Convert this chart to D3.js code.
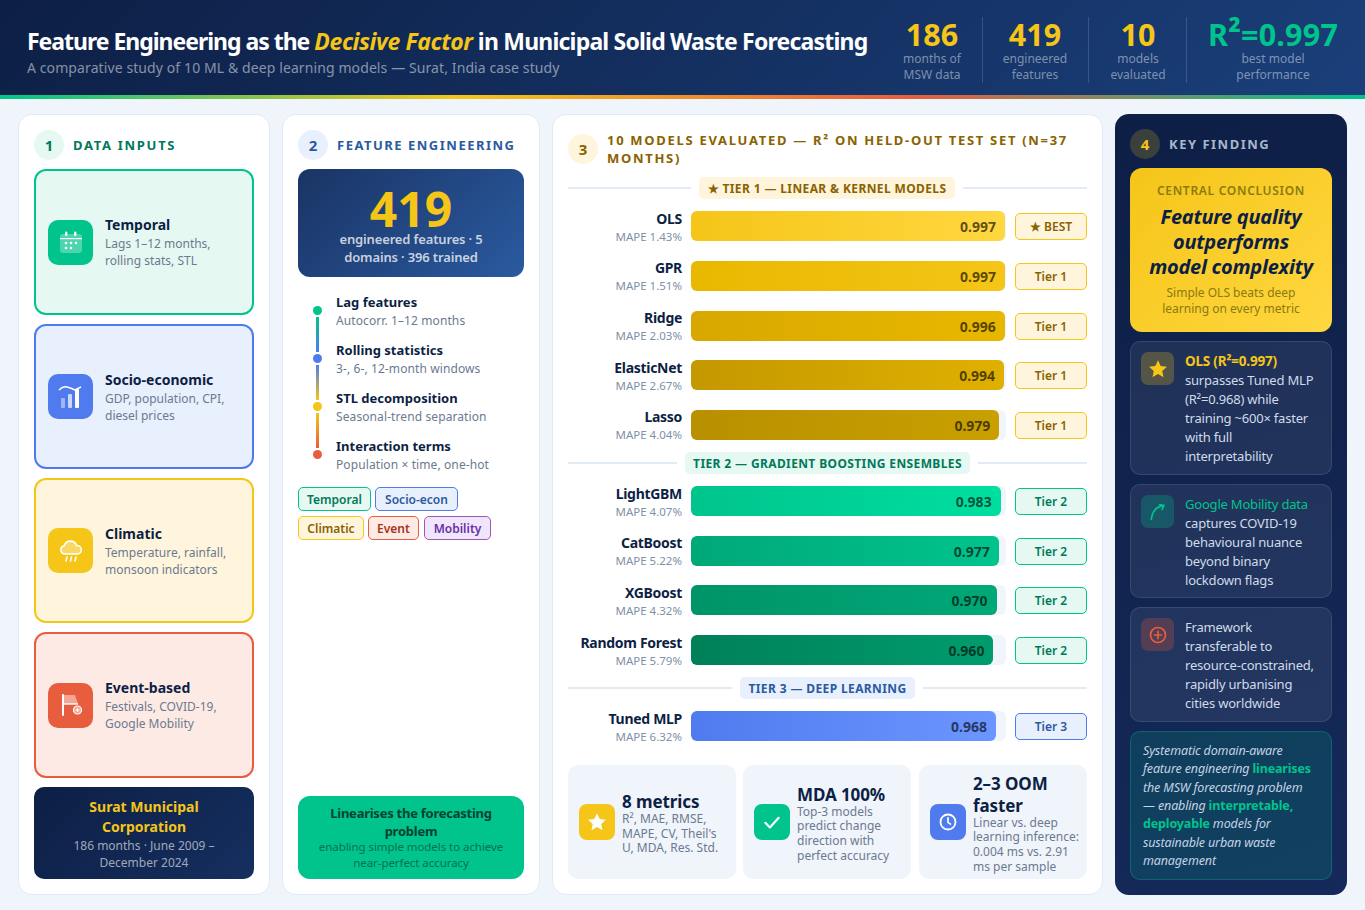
<!DOCTYPE html>
<html><head><meta charset="utf-8">
<script src="https://cdn.jsdelivr.net/npm/d3@7/dist/d3.min.js"></script>
<style>
*{box-sizing:border-box;margin:0;padding:0}
html,body{width:1365px;height:910px;overflow:hidden;background:#f0f4fb;font-family:"Noto Sans",sans-serif;color:#0d1f45}
.abs{position:absolute}
#hdr{left:0;top:0;width:1365px;height:95px;background:linear-gradient(135deg,#0d1f45 0%,#1a3f7a 100%)}
#strip{left:0;top:95px;width:1365px;height:4px;background:linear-gradient(90deg,#00c48c,#f5c518,#e85d3d,#00c48c)}
#title{left:27px;top:25px;font-size:23px;font-weight:700;color:#fff;white-space:nowrap;letter-spacing:-.8px;line-height:32px}
#title .p1{letter-spacing:-1.02px}
#title em{color:#f5c518;letter-spacing:-.4px}
#subtitle{left:27px;top:58px;font-size:14px;color:rgba(255,255,255,.5);white-space:nowrap;line-height:20px;letter-spacing:.1px}
.stat{top:17px;height:66px;text-align:center}
.stat .n{font-size:30.5px;font-weight:700;color:#f5c518;line-height:34px;white-space:nowrap}
.stat .n span{font-size:1.1em;line-height:0}
.stat .l{font-size:12px;color:rgba(255,255,255,.45);line-height:16px}
.sep{top:17px;width:1px;height:66px;background:rgba(255,255,255,.15)}
.panel{background:#fff;border:1px solid #e2eaf5;border-radius:14px;top:114px;height:781px}
.num{width:30px;height:30px;border-radius:50%;display:flex;align-items:center;justify-content:center;font-size:15px;font-weight:700}
.ptitle{font-size:13px;font-weight:700;letter-spacing:1.5px;line-height:18px}
.card{left:34px;width:220px;border:2px solid;border-radius:12px;display:flex;align-items:center;padding:0 12px;gap:12px}
.ico{flex:none;width:45px;height:45px;border-radius:10px;display:flex;align-items:center;justify-content:center}
.card .t{font-size:14px;font-weight:700;line-height:19px}
.card .d{font-size:12px;color:#6b7a90;line-height:17px;margin-top:1px}
.rowlab{left:568px;width:114px;text-align:right;white-space:nowrap}
.rowlab .a{font-size:14px;font-weight:700;line-height:18px;letter-spacing:-.3px}
.rowlab .b{font-size:11.5px;color:#8090a8;line-height:17px}
.track{left:691px;height:30px;background:#f0f4fb;border-radius:6px}
.bar{position:absolute;left:0;top:0;height:100%;border-radius:6px;display:flex;align-items:center;justify-content:flex-end;padding-right:9px;font-size:14px;font-weight:700;color:rgba(0,0,0,.65)}
.tag{left:1015px;width:72px;border:1.5px solid;border-radius:5px;font-size:12px;font-weight:600;display:flex;align-items:center;justify-content:center}
.tline{left:568px;width:519px;height:2px;background:#e2eaf5}
.tlab{height:22px;border-radius:5px;font-size:12px;font-weight:700;letter-spacing:.38px;display:flex;align-items:center;justify-content:center;white-space:nowrap}
.mcard{top:765px;width:168px;height:114px;background:#f0f4fb;border-radius:10px;display:flex;align-items:center;padding:0 11px;gap:7px}
.mcard .ic{flex:none;width:36px;height:36px;border-radius:8px;display:flex;align-items:center;justify-content:center}
.mcard .tb{position:relative;top:1px}
.mcard .t{font-size:17px;font-weight:700;line-height:22px;letter-spacing:-.1px;position:relative;top:1px}
.mcard .d{font-size:12px;color:#6b7a90;line-height:14.7px;white-space:nowrap}
.tdot{left:313px;width:9px;height:9px;border-radius:50%}
.tconn{left:316px;width:3px;height:35px}
.ttxt{left:336px;white-space:nowrap}
.ttxt .a{font-size:13px;font-weight:700;line-height:18px}
.ttxt .b{font-size:12px;color:#6b7a90;line-height:19px;letter-spacing:.1px}
.pill{height:24px;border:1px solid;border-radius:5px;font-size:12px;font-weight:600;display:flex;align-items:center;justify-content:center}
.fcard{left:1130px;width:202px;background:rgba(255,255,255,.07);border:1px solid rgba(255,255,255,.1);border-radius:10px;padding:10px;display:flex;gap:11px}
.fcard .ic{flex:none;width:33px;height:33px;border-radius:7px;display:flex;align-items:center;justify-content:center}
.fcard .tx{font-size:13px;line-height:19px;color:#d0daea;letter-spacing:-.2px}
</style></head><body><script>
const titleParts=["Feature Engineering as the ","Decisive Factor"," in Municipal Solid Waste Forecasting"];
const subtitleText="A comparative study of 10 ML & deep learning models — Surat, India case study";
const statNums=["186","419","10","R²=0.997"];
const statLabels=[["months of","MSW data"],["engineered","features"],["models","evaluated"],["best model","performance"]];
const statCenters=[932,1035,1138,1273];
const statSeps=[982,1088,1186];

const inputNames=["Temporal","Socio-economic","Climatic","Event-based"];
const inputDesc=[["Lags 1–12 months,","rolling stats, STL"],["GDP, population, CPI,","diesel prices"],["Temperature, rainfall,","monsoon indicators"],["Festivals, COVID-19,","Google Mobility"]];

const stepNames=["Lag features","Rolling statistics","STL decomposition","Interaction terms"];
const stepDesc=["Autocorr. 1–12 months","3-, 6-, 12-month windows","Seasonal-trend separation","Population × time, one-hot"];
const pillNames=["Temporal","Socio-econ","Climatic","Event","Mobility"];

const modelNames=["OLS","GPR","Ridge","ElasticNet","Lasso","LightGBM","CatBoost","XGBoost","Random Forest","Tuned MLP"];
const modelMape=["1.43","1.51","2.03","2.67","4.04","4.07","5.22","4.32","5.79","6.32"];
const modelR2=[0.997,0.997,0.996,0.994,0.979,0.983,0.977,0.970,0.960,0.968];
const modelTier=[1,1,1,1,1,2,2,2,2,3];
const tierHeads=["★ TIER 1 — LINEAR & KERNEL MODELS","TIER 2 — GRADIENT BOOSTING ENSEMBLES","TIER 3 — DEEP LEARNING"];

const metricTitles=["8 metrics","MDA 100%","2–3 OOM<br>faster"];
const metricDesc=[["R², MAE, RMSE,","MAPE, CV, Theil's","U, MDA, Res. Std."],["Top-3 models","predict change","direction with","perfect accuracy"],["Linear vs. deep","learning inference:","0.004 ms vs. 2.91","ms per sample"]];

const findingLead=["OLS (R²=0.997)","Google Mobility data",""];
const findingText=["surpasses Tuned MLP (R²=0.968) while training ~600× faster with full interpretability","captures COVID-19 behavioural nuance beyond binary lockdown flags","Framework transferable to resource-constrained, rapidly urbanising cities worldwide"];

const GREEN="#00c48c",BLUE="#4f7bef",YEL="#f5c518",RED="#e85d3d",PUR="#9b59b6";
const body=d3.select("body");
function box(cls,l,t,w,h,html){
  const s=body.append("div").attr("class","abs "+cls).style("left",l==null?null:l+"px").style("top",t==null?null:t+"px");
  if(w!=null)s.style("width",w+"px"); if(h!=null)s.style("height",h+"px");
  if(html!=null)s.html(html); return s;
}
function esc(s){return s.replace(/&/g,"&amp;")}
/* header */
box("",0,0,null,null).attr("id","hdr");
box("",0,95,null,null).attr("id","strip");
box("").attr("id","title").html('<span class="p1">'+esc(titleParts[0])+"</span><em>"+titleParts[1]+"</em>"+titleParts[2]);
box("").attr("id","subtitle").text(subtitleText);
statNums.forEach((n,i)=>{
  const w=150,c=statCenters[i];
  box("stat",c-w/2,17,w,66,`<div class="n"${i==3?' style="color:#00c48c;letter-spacing:.2px"':''}>${n.replace("²","<span>²</span>")}</div><div class="l">${statLabels[i].join("<br>")}</div>`);
});
statSeps.forEach(x=>box("sep",x,17));

/* panels */
box("panel",18,114,252,781);
box("panel",282,114,258,781);
box("panel",552,114,551,781);
box("panel",1115,114,232,781).style("background","linear-gradient(160deg,#0d1f45,#152a5a)").style("border","none");
function head(n,x,y,txt,bg,fg,tc,tw,sp){
  box("num",x,y,null,null,n).style("background",bg).style("color",fg);
  const t=box("ptitle",x+39,y+(tw?-3:6),tw||null,null,txt).style("color",tc);
  if(sp)t.style("letter-spacing",sp+"px");
}
head(1,34,130,"DATA INPUTS","#e6f8f2","#00795a","#00795a",null,1.7);
head(2,298,130,"FEATURE ENGINEERING","#e8effd","#2a5aa0","#2a5aa0");
head(3,568,134,"10 MODELS EVALUATED — R² ON HELD-OUT TEST SET (N=37 MONTHS)","#fff5dc","#8a6200","#8a6200",490,1.7);
head(4,1130,129,"KEY FINDING","rgba(245,197,24,.2)",YEL,"#a9b6cb");

/* icons */
const icons={
 cal:`<svg width="26" height="26" viewBox="0 0 26 26"><rect x="2" y="5" width="22" height="19" rx="3" fill="rgba(255,255,255,.3)"/><rect x="2" y="9" width="22" height="1.2" fill="#fff"/><rect x="7" y="2.5" width="2.4" height="4.5" rx="1.2" fill="#fff"/><rect x="16" y="2.5" width="2.4" height="4.5" rx="1.2" fill="#fff"/><g fill="#fff"><circle cx="8" cy="14" r="1.3"/><circle cx="13" cy="14" r="1.3"/><circle cx="18" cy="14" r="1.3"/><circle cx="8" cy="19" r="1.3"/><circle cx="13" cy="19" r="1.3"/></g></svg>`,
 chart:`<svg width="26" height="26" viewBox="0 0 26 26"><rect x="3" y="14" width="4" height="10" rx="1" fill="rgba(255,255,255,.45)"/><rect x="10" y="10" width="4" height="14" rx="1" fill="rgba(255,255,255,.7)"/><rect x="17" y="5" width="4" height="19" rx="1" fill="#fff"/><path d="M1 6 Q5 2 9 3 T17 6 L23 3" fill="none" stroke="#fff" stroke-width="1.5"/></svg>`,
 rain:`<svg width="26" height="26" viewBox="0 0 26 26"><path d="M7 16a4.2 4.2 0 0 1-.8-8.3A6.5 6.5 0 0 1 18.6 7.6 4.2 4.2 0 0 1 19.5 16z" fill="rgba(255,255,255,.35)" stroke="#fff" stroke-width="1.6"/><g stroke="#fff" stroke-width="1.6" stroke-linecap="round"><path d="M9 19l-1 4M13.5 19l-1 4M18 19l-1 4"/></g></svg>`,
 flag:`<svg width="26" height="26" viewBox="0 0 26 26"><rect x="4" y="2" width="2" height="22" rx="1" fill="#fff"/><path d="M6 3h11l3 9H6z" fill="rgba(255,255,255,.45)"/><path d="M6 12h14" stroke="#fff" stroke-width="1.4"/><circle cx="19.5" cy="18" r="4" fill="rgba(255,255,255,.45)" stroke="#fff" stroke-width="1.2"/><path d="M17.5 18h4M19.5 16v4" stroke="#fff" stroke-width="1"/></svg>`,
 star:c=>`<svg width="20" height="20" viewBox="0 0 24 24"><path d="M12 1.5l3.2 6.9 7.5.9-5.6 5.1 1.5 7.4-6.6-3.7-6.6 3.7 1.5-7.4L1.3 9.3l7.5-.9z" fill="${c}"/></svg>`,
 check:`<svg width="20" height="20" viewBox="0 0 24 24"><path d="M4 13l5.5 5.5L20 7" fill="none" stroke="#fff" stroke-width="2.6" stroke-linecap="round" stroke-linejoin="round"/></svg>`,
 clock:`<svg width="20" height="20" viewBox="0 0 24 24"><circle cx="12" cy="12" r="9" fill="none" stroke="#fff" stroke-width="2.2"/><path d="M12 7v5.5l3 2" fill="none" stroke="#fff" stroke-width="2" stroke-linecap="round"/></svg>`,
 curve:`<svg width="20" height="20" viewBox="0 0 24 24"><path d="M4 21C5 12 9 6 18 4M14 3l5 1-2 5" fill="none" stroke="${GREEN}" stroke-width="2" stroke-linecap="round"/></svg>`,
 plus:`<svg width="20" height="20" viewBox="0 0 24 24"><circle cx="12" cy="12" r="9" fill="none" stroke="${RED}" stroke-width="2"/><path d="M12 7v10M7 12h10" stroke="${RED}" stroke-width="2"/></svg>`
};

/* panel 1 cards */
const cardCols=[[GREEN,"#e6f8f2",icons.cal],[BLUE,"#e8effd",icons.chart],[YEL,"#fff5dc",icons.rain],[RED,"#fdeae4",icons.flag]];
const cardTops=[169,324,478,632],cardH=[146,145,145,146];
inputNames.forEach((n,i)=>{
  const c=cardCols[i];
  box("card",34,cardTops[i],220,cardH[i],`<div class="ico" style="background:${c[0]}">${c[2]}</div><div><div class="t">${n}</div><div class="d">${inputDesc[i].join("<br>")}</div></div>`)
   .style("border-color",c[0]).style("background",c[1]);
});
box("",34,787,220,92,`<div style="font-size:14px;font-weight:700;color:#f5c518;line-height:20px;padding-top:10px">Surat Municipal<br>Corporation</div><div style="font-size:12px;color:rgba(255,255,255,.6);line-height:17px">186 months · June 2009 –<br>December 2024</div>`)
 .style("background","linear-gradient(135deg,#0d1f45,#152f5f)").style("border-radius","10px").style("text-align","center");

/* panel 2 */
box("",298,169,226,108,`<div style="font-size:48px;font-weight:700;color:#f5c518;line-height:56px;padding-top:12px;height:61px">419</div><div style="font-size:13px;font-weight:600;color:rgba(255,255,255,.75);line-height:18px;letter-spacing:-.15px">engineered features · 5<br>domains · 396 trained</div>`)
 .style("background","linear-gradient(135deg,#1a3464,#2a5aa0)").style("border-radius","12px").style("text-align","center");
const stepCols=[GREEN,BLUE,YEL,RED];
const stepTop=d3.scaleLinear().domain([0,1]).range([293,341]);
stepNames.forEach((n,i)=>{
  const y=stepTop(i);
  box("ttxt",336,y,null,null,`<div class="a">${n}</div><div class="b">${stepDesc[i]}</div>`);
  box("tdot",313,y+13,null,null).style("background",stepCols[i]);
  if(i<3)box("tconn",316,y+24,null,null).style("background",`linear-gradient(180deg,${stepCols[i]},${stepCols[i+1]})`);
});
const pillCols=[[GREEN,"#e6f8f2","#00795a"],[BLUE,"#e8effd","#2a5aa0"],[YEL,"#fff5dc","#8a6200"],[RED,"#fdeae4","#a83220"],[PUR,"#f0e6fb","#6a2fa8"]];
const pillX=[298,375,298,368,424],pillW=[73,83,66,51,67],pillY=[487,487,516,516,516];
pillNames.forEach((n,i)=>{
  const c=pillCols[i];
  box("pill",pillX[i],pillY[i],pillW[i],null,n).style("border-color",c[0]).style("background",c[1]).style("color",c[2]);
});
box("",298,796,226,83,`<div style="font-size:13px;font-weight:700;color:#04432f;line-height:18px;padding-top:8px;letter-spacing:-.25px">Linearises the forecasting<br>problem</div><div style="font-size:11.5px;color:#04714f;line-height:16px;margin-top:-1px;letter-spacing:-.06px">enabling simple models to achieve<br>near-perfect accuracy</div>`)
 .style("background",GREEN).style("border-radius","12px").style("text-align","center");

/* panel 3 */
const tierStyle=[["#fff5dc","#8a6200"],["#e6f8f2","#00795a"],["#e8effd","#2a5aa0"]];
const tierX=[699,685,740],tierW=[256,285,175],tierY=[177,452,677];
tierHeads.forEach((t,i)=>{
  box("tline",568,tierY[i]+10,519,2);
  box("",tierX[i]-8,tierY[i],tierW[i]+16,22).style("background","#fff");
  box("tlab",tierX[i],tierY[i],tierW[i],22,esc(t)).style("background",tierStyle[i][0]).style("color",tierStyle[i][1]);
});
const trackW=315;
const xScale=d3.scaleLinear().domain([0,1]).range([0,trackW]);
const rowY=[211,261,311,360,410,486,536,585,635,711];
const labelY=[210,259,309,359,408,485,534,584,634,710];
const barGrad=[["#f5c518","#ffd740"],["#e8b800","#f5c518"],["#d9a800","#e8b800"],["#c49800","#e0b000"],["#b89000","#c9a000"],["#00c48c","#00dfa0"],["#00a878","#00c48c"],["#009468","#00a878"],["#008058","#009c6e"],[BLUE,"#6b96ff"]];
const tagStyle={1:[YEL,"#fff5dc","#8a6200"],2:[GREEN,"#e6f8f2","#00795a"],3:[BLUE,"#e8effd","#2a5aa0"]};
modelNames.forEach((n,i)=>{
  const y=rowY[i];
  box("rowlab",568,labelY[i],114,null,`<div class="a">${n}</div><div class="b">MAPE ${modelMape[i]}%</div>`);
  const tr=box("track",691,y,trackW,30);
  tr.append("div").attr("class","bar").style("width",xScale(modelR2[i])+"px")
    .style("background",`linear-gradient(90deg,${barGrad[i][0]},${barGrad[i][1]})`).text(modelR2[i].toFixed(3));
  const ts=tagStyle[modelTier[i]];
  box("tag",1015,y+2,72,27,i==0?"★ BEST":"Tier "+modelTier[i]).style("border-color",ts[0]).style("background",ts[1]).style("color",ts[2]);
});
const mX=[568,743,919],mC=[[YEL,icons.star("#fff")],[GREEN,icons.check],[BLUE,icons.clock]];
metricTitles.forEach((t,i)=>{
  box("mcard",mX[i],765,168,114,`<div class="ic" style="background:${mC[i][0]}">${mC[i][1]}</div><div class="tb"><div class="t">${t}</div><div class="d">${metricDesc[i].join("<br>")}</div></div>`);
});

/* panel 4 */
box("",1130,168,202,164,`<div style="font-size:12px;font-weight:600;letter-spacing:.7px;color:#8a7a10;line-height:16px;padding-top:15px">CENTRAL CONCLUSION</div><div style="font-size:20px;font-weight:700;font-style:italic;color:#0d1f45;line-height:25px;margin-top:5px;letter-spacing:-.25px">Feature quality<br>outperforms<br>model complexity</div><div style="font-size:12px;color:#8a7a10;line-height:16px;margin-top:6px">Simple OLS beats deep<br>learning on every metric</div>`)
 .style("background",`linear-gradient(135deg,${YEL},#ffd740)`).style("border-radius","12px").style("text-align","center");
const fTop=[341,484,607],fH=[134,114,115];
const fIc=[["rgba(245,197,24,.25)",icons.star(YEL)],["rgba(0,196,140,.25)",icons.curve],["rgba(232,93,61,.25)",icons.plus]];
const fLeadStyle=[`color:${YEL};font-weight:700;font-size:13.5px`,`color:${GREEN}`,""];
findingText.forEach((t,i)=>{
  box("fcard",1130,fTop[i],202,fH[i],`<div class="ic" style="background:${fIc[i][0]}">${fIc[i][1]}</div><div class="tx">${findingLead[i]?`<span style="${fLeadStyle[i]}">${findingLead[i]}</span> `:""}${t}</div>`);
});
box("",1130,731,202,149,`Systematic domain-aware<br>feature engineering <b style="color:${GREEN};font-style:normal">linearises</b><br>the MSW forecasting problem<br>— enabling <b style="color:${GREEN};font-style:normal">interpretable,<br>deployable</b> models for<br>sustainable urban waste<br>management`)
 .style("background","rgba(0,196,140,.15)").style("border","1px solid rgba(0,196,140,.3)").style("border-radius","10px")
 .style("padding","10px 12px 0 12px").style("font-size","12.5px").style("line-height","18.35px").style("font-style","italic").style("color","#c5d2e4").style("letter-spacing","-.15px").style("white-space","nowrap");
</script></body></html>
